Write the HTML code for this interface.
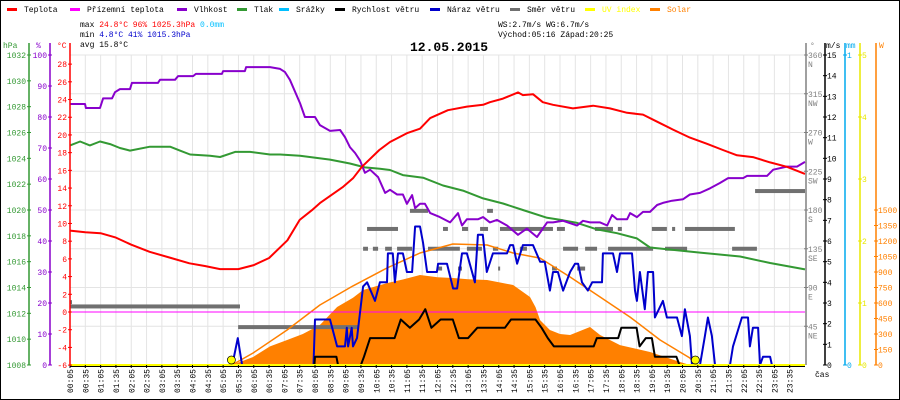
<!DOCTYPE html>
<html><head><meta charset="utf-8"><style>
html,body{margin:0;padding:0;background:#fff}
svg{display:block;font-family:"Liberation Mono",monospace}
</style></head><body>
<svg id="chart" width="900" height="400" viewBox="0 0 900 400" xmlns="http://www.w3.org/2000/svg"></svg>
<script>
// ---- data ----
const tempTimes=[0,0.5,1.0,1.5,2.0,2.6,3.3,3.9,4.4,4.9,5.5,6.0,6.5,7.1,7.5,7.9,8.16,8.9,9.24,9.53,10.1,10.45,11.0,11.43,11.76,12.34,12.96,13.49,13.71,14.14,14.63,14.79,15.12,15.44,15.77,16.42,17.08,17.63,18.19,18.71,19.17,19.69,20.24,20.8,21.32,21.78,22.3,22.86,23.41,24];
const tempValues=[9.2,9.0,8.9,8.4,7.6,6.8,6.1,5.5,5.2,4.85,4.85,5.3,6.1,8.1,10.4,11.5,12.3,14.1,15.1,16.4,18.3,19.2,20.2,20.7,21.9,22.8,23.2,23.4,23.7,24.1,24.8,24.5,24.6,23.7,23.4,23.0,23.3,23.0,22.5,22.3,21.5,20.6,19.7,19.0,18.3,17.7,17.5,16.9,16.4,15.6];
const apparentTimes=[0,24];
const apparentValues=[0,0];
const humTimes=[0,0.49,0.52,0.98,1.08,1.37,1.47,1.63,1.96,2.02,2.87,2.94,3.43,3.53,4.02,4.11,4.96,5.0,5.71,5.75,6.53,6.86,7.02,7.18,7.51,7.67,8.0,8.16,8.49,8.82,8.98,9.14,9.31,9.47,9.63,9.8,10.06,10.29,10.45,10.68,10.87,11.0,11.17,11.27,11.43,11.59,11.76,12.08,12.41,12.67,12.8,12.96,13.32,13.49,13.71,13.94,14.27,14.63,14.92,15.25,15.58,15.77,16.1,16.56,16.75,16.98,17.31,17.54,17.7,17.86,18.19,18.29,18.51,18.71,18.94,19.17,19.36,19.66,20.02,20.24,20.57,20.9,21.22,21.49,21.98,22.11,22.76,22.96,23.41,23.74,24];
const humValues=[84.2,84.2,82.9,82.9,86,86,88,89,89,91,91,92,92,93.2,93.2,93.9,93.9,94.8,94.8,96.1,96.1,95.5,94.5,92,84.5,80,80,77.4,75.5,75.8,73.5,70.3,68.4,66,62,63,60.6,55.5,56.5,55,55,52,54.8,50.6,52,52,49,47.7,46,49,45,47,47,47.7,46,46.8,45,42,44,41.3,46,46,46.5,45,46.5,46,46,45,48.4,47,47,49,47.7,49.4,49.4,51.6,52.3,53,53.5,55,55.5,57,58.7,60.3,60.3,61,61,63,64,64,65.5];
const presTimes=[0,0.33,0.65,0.98,1.31,1.63,1.96,2.61,3.27,3.59,3.92,4.57,4.9,5.39,5.88,6.53,6.86,7.51,8.49,9.14,9.63,10.12,10.45,10.87,11.53,12.18,12.83,13.49,14.14,14.79,15.58,16.1,16.56,17.21,17.86,18.51,18.94,20.57,21.88,22.86,24];
const presValues=[1025.0,1025.3,1025.0,1025.3,1025.1,1024.8,1024.6,1024.9,1024.9,1024.6,1024.3,1024.2,1024.1,1024.5,1024.5,1024.3,1024.3,1024.2,1023.9,1023.6,1023.3,1023.2,1023.1,1022.7,1022.5,1021.9,1021.5,1020.9,1020.5,1020.0,1019.4,1019.2,1019.0,1018.5,1018.2,1017.8,1017.1,1016.7,1016.4,1015.9,1015.4];
const solarTimes=[5.29,5.98,6.53,7.09,7.6,8.16,8.72,9.24,9.57,10.35,10.9,11.43,12.0,12.5,13.0,13.62,14.0,14.47,15.02,15.2,15.35,15.67,16.0,16.33,16.98,17.31,17.96,18.94,19.92,20.24];
const solarValues=[0,77,180,242,300,387,561,650,726,793,830,871,850,842,830,823,800,774,658,560,435,339,300,290,368,290,193,126,29,0];
const solarMaxTimes=[5.29,5.98,7.09,8.16,9.24,10.35,11.43,12.5,13.62,14.47,15.35,16.33,17.31,18.29,19.27,20.24,20.42];
const solarMaxValues=[0,116,339,581,765,939,1084,1171,1161,1084,1035,852,658,464,242,68,0];
const windTimes=[0,7.98,8.0,8.7,8.75,9.5,9.6,9.8,10.6,10.8,11.1,11.4,11.6,11.8,12.1,12.5,12.7,13.0,13.3,14.2,14.4,15.2,15.4,15.6,15.8,17.1,17.2,17.9,18.0,18.5,18.6,18.8,19.0,19.1,19.8,19.9,24];
const windValues=[0,0,0.4,0.4,0,0,0.4,1.3,1.3,2.2,1.8,2.2,2.7,1.8,2.2,2.2,1.3,1.3,1.8,1.8,2.2,2.2,1.8,1.3,0.9,0.9,1.3,1.3,1.8,1.8,0.9,1.3,1.3,0.4,0.4,0,0];
const gustTimes=[0,5.3,5.48,5.62,7.95,8.0,8.49,8.72,8.98,9.04,9.08,9.2,9.24,9.37,9.57,9.7,9.96,10.12,10.35,10.38,10.54,10.61,10.71,10.87,11.0,11.17,11.27,11.43,11.53,11.66,11.98,12.02,12.31,12.51,12.64,12.8,12.96,13.22,13.32,13.48,13.61,13.81,14.27,14.37,14.47,14.6,14.79,15.12,15.35,15.5,15.67,15.77,15.93,16.1,16.33,16.49,16.59,16.72,16.91,17.05,17.37,17.4,17.73,17.86,17.96,18.35,18.45,18.51,18.61,18.77,18.87,19.04,19.1,19.36,19.49,19.82,19.98,20.08,20.24,20.31,20.57,20.73,20.83,20.96,21.06,21.55,21.65,21.94,22.14,22.2,22.3,22.47,22.53,22.63,22.86,22.92,24];
const gustValues=[0,0,1.3,0,0,2.2,2.2,0.9,0.9,1.8,0.9,1.8,0.9,1.3,3.8,4.0,3.1,4.0,4.0,5.4,5.4,4.0,5.4,5.4,4.5,4.5,6.7,6.7,5.9,4.5,4.5,4.9,4.9,3.7,3.7,5.4,5.4,4.0,6.3,6.3,4.5,5.4,5.4,5.8,5.8,4.9,5.8,5.8,5.0,5.0,3.6,4.5,4.5,3.6,4.5,4.9,4.9,4.0,3.6,4.0,4.0,5.4,5.4,4.5,5.4,5.4,3.6,3.1,4.5,2.7,4.5,4.5,2.3,3.1,2.3,2.3,1.4,2.7,1.4,0,0,1.4,2.3,1.4,0,0,0.9,2.3,2.3,0.9,1.8,1.8,0,0.4,0.4,0,0];
const dirStarts=[0,0,5.49,9.57,9.89,10.29,10.68,11.69,12.96,13.81,14.69,16.1,16.82,17.57,19.43,21.62,9.7,12.18,12.8,13.39,14.04,15.9,17.14,17.89,19.0,19.66,20.08,11.1,13.62,12.02,12.67,13.98,15.74,16.56,22.37];
const dirEnds=[0.06,5.55,9.4,9.73,10.06,10.51,11.17,12.73,13.45,13.98,14.92,16.59,17.21,19.04,20.15,22.43,10.71,12.34,13.0,13.65,15.77,16.16,17.73,18.02,19.49,19.76,21.71,11.69,13.81,12.15,12.8,14.04,15.9,16.82,24];
const dirValues=[73,68,44,135,135,135,135,135,135,135,135,135,135,135,135,135,158,158,158,158,158,158,158,158,158,158,158,179,179,112,112,112,112,112,202];
const sunEvents=[5.27,20.42];
const hpaTicks=[1032,1030,1028,1026,1024,1022,1020,1018,1016,1014,1012,1010,1008];
const humTicks=[100,90,80,70,60,50,40,30,20,10,0];
const tempTicks=[28,26,24,22,20,18,16,14,12,10,8,6,4,2,0,-2,-4,-6];
const dirTicks=[360,315,270,225,180,135,90,45];
const dirLabels=["N","NW","W","SW","S","SE","E","NE"];
const msTicks=[15,14,13,12,11,10,9,8,7,6,5,4,3,2,1,0];
const uvTicks=[5,4,3,2,1,0];
const solarTicks=[1500,1350,1200,1050,900,750,600,450,300,150,0];

// ---- scales ----
const X0=70,X1=805,YT=55,YB=365;
const X=t=>X0+t*(X1-X0)/24;
const Yt=c=>312-c*8.853;
const Yh=p=>YB-p*(YB-YT)/100;
const Yp=h=>YT+(1032-h)*(YB-YT)/24;
const Yw=v=>YB-v*(YB-YT)/15;
const Yd=d=>YB-d*(YB-YT)/360;
const Ys=w=>YB-w*155/1500;
const Yu=u=>YB-u*(YB-YT)/5;

const svg=document.getElementById('chart');
const NS='http://www.w3.org/2000/svg';
function mk(tag,attrs,parent){const e=document.createElementNS(NS,tag);for(const k in attrs)e.setAttribute(k,attrs[k]);(parent||svg).appendChild(e);return e;}
function txt(x,y,s,fill,size,anchor,parent){const e=mk('text',{x:x,y:y,fill:fill||'#000','font-size':size||8,'text-anchor':anchor||'start'},parent);e.textContent=s;return e;}
function pts(ts,vs,yf){return ts.map((t,i)=>X(t).toFixed(1)+','+yf(vs[i]).toFixed(1)).join(' ');}

let e;
e=mk('rect',{x:0.5,y:0.5,width:899,height:399,fill:'#fff',stroke:'#000'});



// grid
const grid=mk('g',{stroke:'#e4e4e4','stroke-width':1});


for(let k=1;k<48;k++){e=mk('line',{x1:X(k/2),x2:X(k/2),y1:YT,y2:YB},grid);

}
for(let k=0;k<8;k++){e=mk('line',{x1:X0,x2:X1,y1:Yd(360-45*k),y2:Yd(360-45*k)},grid);

}

// solar area
e=mk('polygon',{points:X(solarTimes[0])+','+YB+' '+pts(solarTimes,solarValues,Ys)+' '+X(solarTimes[solarTimes.length-1])+','+YB,fill:'#ff8000'});



// wind direction
const dg=mk('g',{fill:'#707070'});


dirStarts.forEach((s,i)=>{e=mk('rect',{x:X(s),y:Yd(dirValues[i])-2,width:Math.max(2,X(dirEnds[i])-X(s)),height:4},dg);

});

// lines
function line(ts,vs,yf,color,w,name){const p=mk('polyline',{points:pts(ts,vs,yf),fill:'none',stroke:color,'stroke-width':w,'stroke-linejoin':'round'});


return p;}
line(solarMaxTimes,solarMaxValues,Ys,'#ff8000',1.5,'solar-max-line');
line(apparentTimes,apparentValues,Yt,'#ff00ff',1,'apparent-temperature-line');
line(presTimes,presValues,Yp,'#339933',2,'pressure-line');
line(humTimes,humValues,Yh,'#8800cc',2,'humidity-line');
line(tempTimes,tempValues,Yt,'#ff0000',2,'temperature-line');
line(gustTimes,gustValues,Yw,'#0000cc',2,'wind-gust-line');
line(windTimes,windValues,Yw,'#000',2,'wind-speed-line');

// UV baseline
e=mk('line',{x1:X0,x2:X1,y1:YB,y2:YB,stroke:'#ffff00','stroke-width':2});


e=mk('line',{x1:X0,x2:X1,y1:YB+1.5,y2:YB+1.5,stroke:'#000','stroke-width':1});


sunEvents.forEach(t=>{e=mk('circle',{cx:X(t),cy:YB-5,r:4,fill:'#ffff00',stroke:'#000','stroke-width':0.7});

});

// x labels
const xl=mk('g',{});


for(let k=0;k<48;k++){const h=Math.floor(k/2),m=k%2?35:5;const s=String(h).padStart(2,'0')+':'+String(m).padStart(2,'0');
const x=X(k/2)+3;e=mk('text',{x:0,y:0,'font-size':8,fill:'#000','text-anchor':'end',transform:'translate('+x+',369) rotate(-90)'},xl);e.textContent=s;


e=mk('line',{x1:X(k/2),x2:X(k/2),y1:YB,y2:YB+3,stroke:'#000'},xl);

}
e=txt(815,377,'čas','#000',8);



// axes
function axis(x,color,ticks,yf,labelDx,anchor,name,labels){const g=mk('g',{});


mk('line',{x1:x,x2:x,y1:YT-12,y2:YB,stroke:color,'stroke-width':1.5},g);
ticks.forEach((v,i)=>{const y=yf(v);mk('line',{x1:x-2,x2:x+2,y1:y,y2:y,stroke:color},g);
const t=txt(x+labelDx,y+3,String(v),color,8,anchor,g);


if(labels){const l=txt(x+labelDx,y+12,labels[i],color,8,anchor,g);

}});return g;}
axis(29,'#339933',hpaTicks,Yp,-3,'end','pressure-axis');
axis(50,'#8800cc',humTicks,Yh,-3,'end','humidity-axis');
axis(70,'#ff0000',tempTicks,Yt,-3,'end','temperature-axis');
axis(806,'#808080',dirTicks,Yd,2,'start','direction-axis',dirLabels);
axis(825,'#000',msTicks,Yw,2,'start','wind-speed-axis');
axis(845,'#00aaee',[1,0],v=>YB-v*(YB-YT),2,'start','rain-axis');
axis(860,'#e8e800',uvTicks,Yu,2,'start','uv-axis');
const sa=axis(876,'#ff8000',solarTicks,Ys,2,'start','solar-axis');
sa.firstChild.setAttribute('y1',YT-12);

[[3,'hPa','#339933'],[36,'%','#8800cc'],[57,'°C','#ff0000'],[810,'°','#808080'],[826,'m/s','#000'],[846,'mm','#00aaee'],[879,'W','#ff8000']].forEach(a=>{e=txt(a[0],48,a[1],a[2],8);

});

// legend
const lg=mk('g',{});


[[7,'Teplota','#ff0000','#000'],[70,'Přízemní teplota','#ff00ff','#000'],[177,'Vlhkost','#8800cc','#000'],[237,'Tlak','#339933','#000'],[279,'Srážky','#00bfff','#000'],[335,'Rychlost větru','#000','#000'],[430,'Náraz větru','#0000cc','#000'],[510,'Směr větru','#707070','#000'],[585,'UV index','#ffff00','#ffff00'],[650,'Solar','#ff8000','#ff8000']].forEach(a=>{
const it=mk('g',{},lg);


mk('rect',{x:a[0],y:8,width:10,height:3,fill:a[2]},it);txt(a[0]+17,12,a[1],a[3],8,'start',it);});

// stats text
function rich(x,y,parts,name){const t=mk('text',{x:x,y:y,'font-size':8,'xml:space':'preserve'});


parts.forEach(p=>{const s=mk('tspan',{fill:p[1]},t);s.textContent=p[0];});}
rich(80,27,[['max ','#000'],['24.8°C  96%  1025.3hPa','#ff0000'],['    ','#000'],['0.0mm','#00bfff']],'max-stats');
rich(80,37,[['min  ','#000'],['4.8°C  41%  1015.3hPa','#0000cc']],'min-stats');
rich(80,47,[['avg 15.8°C','#000']],'avg-stats');
rich(498,27,[['WS:2.7m/s   WG:6.7m/s','#000']],'wind-stats');
rich(498,37,[['Východ:05:16 Západ:20:25','#000']],'sun-times');
e=mk('text',{x:449,y:51,'font-size':13,'font-weight':'bold','text-anchor':'middle',fill:'#000'});e.textContent='12.05.2015';


</script>
</body></html>
